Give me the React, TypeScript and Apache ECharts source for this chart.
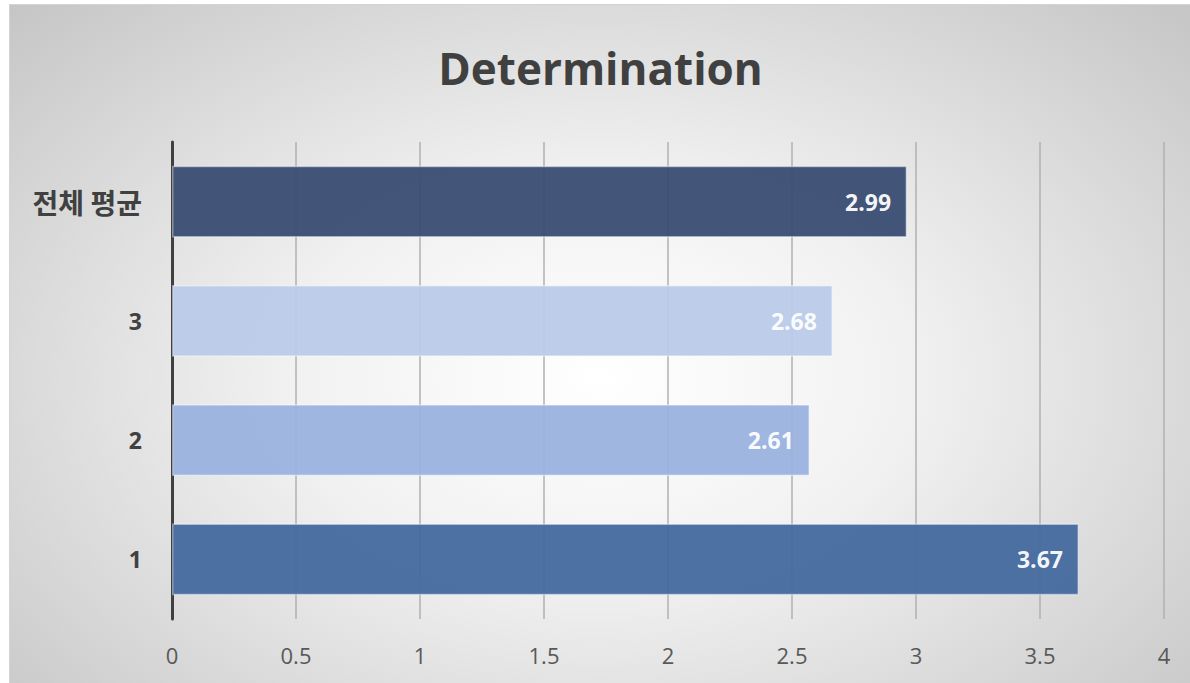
import React, { useEffect, useRef } from "react";
import * as echarts from "echarts";

const categories = ["1", "2", "3", "전체 평균"];
const barValues = [3.657, 2.572, 2.665, 2.964];
const labelTexts = ["3.67", "2.61", "2.68", "2.99"];
const barColors = ["#45699f", "#9ab2de", "#bacbe9", "#394d72"];
const xTicks = [0, 0.5, 1, 1.5, 2, 2.5, 3, 3.5, 4];
const titleText = "Determination";

const FONT = '"Open Sans", "Noto Sans CJK KR", sans-serif';

export default function App() {
  const ref = useRef<HTMLDivElement>(null);
  useEffect(() => {
    if (!ref.current) return;
    const chart = echarts.init(ref.current, null, { renderer: "svg" });
    chart.setOption({
      animation: false,
      backgroundColor: "transparent",
      title: {
        text: titleText,
        left: "center",
        top: 36,
        textStyle: { fontFamily: FONT, fontSize: 44, fontWeight: "bold", color: "#404040" },
      },
      grid: { left: 162, right: 27, top: 137, bottom: 65, containLabel: false },
      xAxis: {
        type: "value",
        min: xTicks[0],
        max: xTicks[xTicks.length - 1],
        interval: 0.5,
        axisLine: { show: false },
        axisTick: { show: false },
        axisLabel: {
          margin: 25,
          fontFamily: FONT,
          fontSize: 22,
          color: "#595959",
          formatter: (v: number) => String(v),
        },
        splitLine: { show: true, lineStyle: { color: "#b0b0b0", width: 1.5 } },
      },
      yAxis: {
        type: "category",
        data: categories,
        axisLine: { show: true, lineStyle: { color: "#404040", width: 3 } },
        axisTick: { show: false },
        axisLabel: {
          margin: 30,
          fontFamily: FONT,
          fontSize: 23,
          fontWeight: "bold",
          color: "#404040",
          formatter: (v: string) => (/^\d+$/.test(v) ? v : "{k|" + v + "}"),
          rich: {
            k: { fontFamily: '"Noto Sans CJK KR", sans-serif', fontSize: 28, fontWeight: "bold", color: "#404040" },
          },
        },
        splitLine: { show: false },
      },
      series: [
        {
          type: "bar",
          barCategoryGap: "40%",
          data: barValues.map((v, i) => ({
            value: v,
            itemStyle: {
              color: barColors[i],
              opacity: 0.95,
              borderColor: "rgba(255,255,255,0.45)",
              borderWidth: 1.5,
            },
          })),
          label: {
            show: true,
            position: "insideRight",
            distance: 16,
            fontFamily: FONT,
            fontSize: 23,
            fontWeight: "bold",
            color: "#ffffff",
            formatter: (p: any) => labelTexts[p.dataIndex],
          },
        },
      ],
    });
    return () => chart.dispose();
  }, []);
  return (
    <div
      style={{
        position: "absolute",
        left: 9,
        top: 4,
        width: 1181,
        height: 679,
        boxSizing: "border-box",
        borderTop: "1px solid #d4d4d4",
        borderLeft: "1px solid #d4d4d4",
        background:
          "radial-gradient(ellipse 75% 85% at 50% 55%, #ffffff 0%, #f1f1f1 35%, #c0c0c0 100%)",
      }}
    >
      <div ref={ref} style={{ width: 1181, height: 679 }} />
    </div>
  );
}
